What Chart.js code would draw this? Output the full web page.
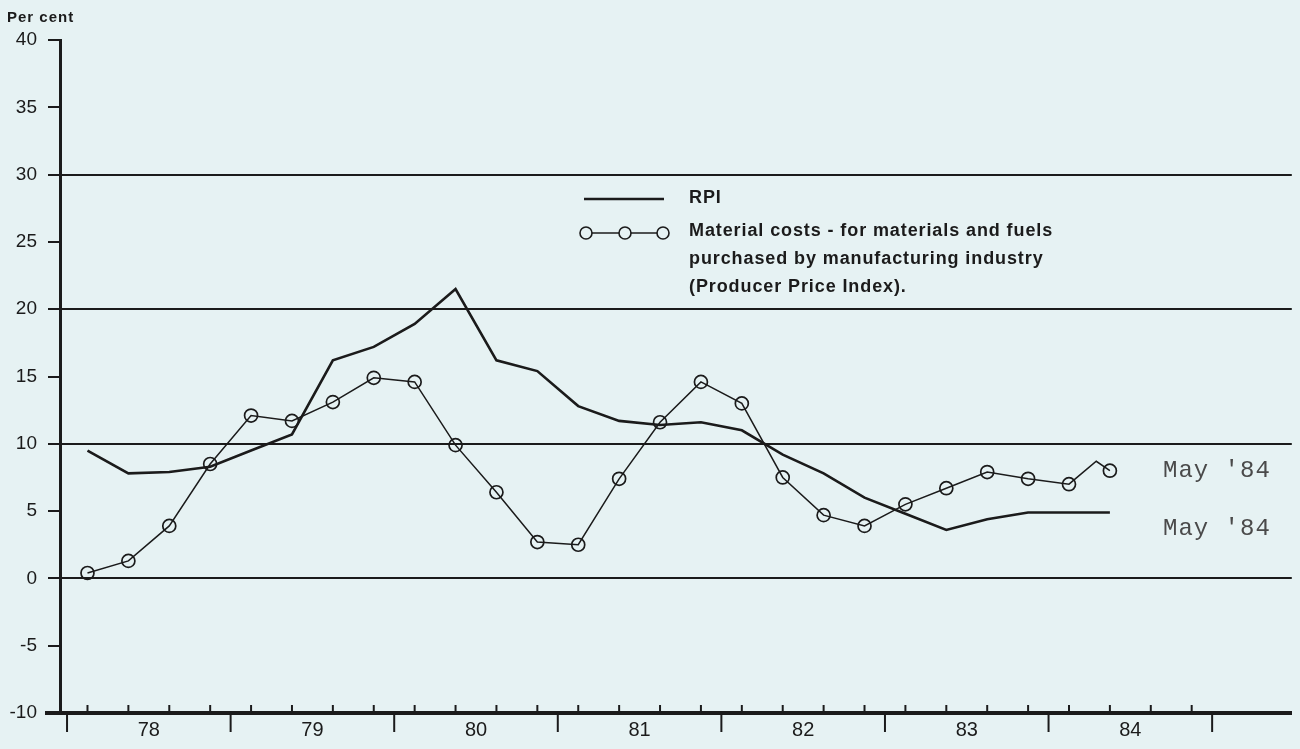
<!DOCTYPE html>
<html>
<head>
<meta charset="utf-8">
<title>RPI and material costs</title>
<script src="https://cdn.jsdelivr.net/npm/chart.js@4.4.0/dist/chart.umd.min.js"></script>
<style>
  html, body { margin: 0; padding: 0; background: #e6f2f3; }
  canvas { display: block; }
</style>
</head>
<body>
<canvas id="chart" width="1300" height="749"></canvas>
<script>
// year labels along the bottom axis (1978 .. 1984)
const firstYear = 1978;
const yearLabels = ['78', '79', '80', '81', '82', '83', '84'];
const yTicks = [-10, -5, 0, 5, 10, 15, 20, 25, 30, 35, 40];
const gridValues = [0, 10, 20, 30];

// RPI, per cent change on a year earlier
const rpiDates = ['1978-02', '1978-05', '1978-08', '1978-11', '1979-02', '1979-05', '1979-08', '1979-11',
  '1980-02', '1980-05', '1980-08', '1980-11', '1981-02', '1981-05', '1981-08', '1981-11',
  '1982-02', '1982-05', '1982-08', '1982-11', '1983-02', '1983-05', '1983-08', '1983-11',
  '1984-02', '1984-05'];
const rpiValues = [9.5, 7.8, 7.9, 8.3, 9.5, 10.7, 16.2, 17.2,
  18.9, 21.5, 16.2, 15.4, 12.8, 11.7, 11.4, 11.6,
  11.0, 9.2, 7.8, 6.0, 4.8, 3.6, 4.4, 4.9,
  4.9, 4.9];

// material costs (producer price index), per cent change on a year earlier
const matDates = ['1978-02', '1978-05', '1978-08', '1978-11', '1979-02', '1979-05', '1979-08', '1979-11',
  '1980-02', '1980-05', '1980-08', '1980-11', '1981-02', '1981-05', '1981-08', '1981-11',
  '1982-02', '1982-05', '1982-08', '1982-11', '1983-02', '1983-05', '1983-08', '1983-11',
  '1984-02', '1984-04', '1984-05'];
const matValues = [0.4, 1.3, 3.9, 8.5, 12.1, 11.7, 13.1, 14.9,
  14.6, 9.9, 6.4, 2.7, 2.5, 7.4, 11.6, 14.6,
  13.0, 7.5, 4.7, 3.9, 5.5, 6.7, 7.9, 7.4,
  7.0, 8.7, 8.0];

// months that carry a circle (mid-quarter)
const markedMonths = [2, 5, 8, 11];

const FONT = "'Liberation Sans', Arial, sans-serif";
const INK = '#1b1b1b';

function toYear(d) {
  const [yy, mm] = d.split('-').map(Number);
  return yy + (mm - 0.5) / 12;
}
function monthOf(d) {
  return Number(d.split('-')[1]);
}

const decor = {
  id: 'decor',
  beforeDraw(chart) {
    const ctx = chart.ctx;
    ctx.save();
    ctx.fillStyle = '#e6f2f3';
    ctx.fillRect(0, 0, chart.width, chart.height);
    ctx.restore();
  },
  afterDraw(chart) {
    const { ctx, chartArea } = chart;
    const x = chart.scales.x;
    const yb = chartArea.bottom;
    ctx.save();
    ctx.strokeStyle = INK;

    // year boundaries below the axis, quarter marks above it
    ctx.lineWidth = 2;
    for (let i = 0; i <= yearLabels.length; i++) {
      const px = x.getPixelForValue(firstYear + i);
      ctx.beginPath();
      ctx.moveTo(px, yb);
      ctx.lineTo(px, yb + 19);
      ctx.stroke();
    }
    for (let i = 0; i < yearLabels.length; i++) {
      for (let q = 0; q < 4; q++) {
        const px = x.getPixelForValue(firstYear + i + (q + 0.5) / 4);
        ctx.beginPath();
        ctx.moveTo(px, yb - 8);
        ctx.lineTo(px, yb);
        ctx.stroke();
      }
    }
    // axis overshoot on the left
    ctx.lineWidth = 4;
    ctx.beginPath();
    ctx.moveTo(45, yb);
    ctx.lineTo(chartArea.left, yb);
    ctx.stroke();

    // unit label
    ctx.fillStyle = INK;
    ctx.font = 'bold 15px ' + FONT;
    ctx.letterSpacing = '1px';
    ctx.textBaseline = 'middle';
    ctx.fillText('Per cent', 7, 18);

    // legend
    ctx.lineWidth = 2.6;
    ctx.beginPath();
    ctx.moveTo(584, 199);
    ctx.lineTo(664, 199);
    ctx.stroke();

    ctx.lineWidth = 1.5;
    ctx.beginPath();
    ctx.moveTo(586, 233);
    ctx.lineTo(663, 233);
    ctx.stroke();
    ctx.lineWidth = 1.6;
    [586, 625, 663].forEach(cx => {
      ctx.beginPath();
      ctx.fillStyle = '#e6f2f3';
      ctx.arc(cx, 233, 6, 0, Math.PI * 2);
      ctx.fill();
      ctx.stroke();
    });

    ctx.fillStyle = INK;
    ctx.font = 'bold 18px ' + FONT;
    ctx.letterSpacing = '0.9px';
    ctx.textBaseline = 'alphabetic';
    ctx.fillText('RPI', 689, 203);
    ctx.fillText('Material costs - for materials and fuels', 689, 236);
    ctx.fillText('purchased by manufacturing industry', 689, 264);
    ctx.fillText('(Producer Price Index).', 689, 292);

    // end labels
    ctx.fillStyle = '#4a4a4a';
    ctx.font = "24px 'Liberation Mono', 'DejaVu Sans Mono', monospace";
    ctx.letterSpacing = '1px';
    ctx.textBaseline = 'middle';
    ctx.fillText("May '84", 1163, 471);
    ctx.fillText("May '84", 1163, 529);
    ctx.restore();
  }
};

const chart = new Chart(document.getElementById('chart'), {
  type: 'line',
  data: {
    datasets: [
      {
        label: 'RPI',
        data: rpiDates.map((d, i) => ({ x: toYear(d), y: rpiValues[i] })),
        borderColor: INK,
        borderWidth: 2.6,
        pointRadius: 0,
        tension: 0,
        fill: false
      },
      {
        label: 'Material costs',
        data: matDates.map((d, i) => ({ x: toYear(d), y: matValues[i] })),
        borderColor: INK,
        borderWidth: 1.5,
        pointRadius: ctx => markedMonths.includes(monthOf(matDates[ctx.dataIndex])) ? 6.5 : 0,
        pointBorderWidth: 1.7,
        pointBorderColor: INK,
        pointBackgroundColor: 'rgba(0,0,0,0)',
        tension: 0,
        fill: false
      }
    ]
  },
  options: {
    responsive: false,
    devicePixelRatio: 1,
    animation: false,
    layout: { padding: { top: 40, right: 4, left: 0, bottom: 0 } },
    plugins: {
      legend: { display: false },
      tooltip: { enabled: false }
    },
    scales: {
      x: {
        type: 'linear',
        min: 1977.957,
        max: 1985.487,
        afterBuildTicks: scale => {
          scale.ticks = yearLabels.map((l, i) => ({ value: firstYear + i + 0.5 }));
        },
        afterFit: scale => { scale.height = 36; },
        ticks: {
          autoSkip: false,
          maxRotation: 0,
          padding: 5,
          color: INK,
          font: { family: FONT, size: 20 },
          callback: (v, i) => yearLabels[i]
        },
        grid: { display: false, drawTicks: false },
        border: { display: true, color: INK, width: 4 }
      },
      y: {
        min: -10,
        max: 40,
        afterBuildTicks: scale => {
          scale.ticks = yTicks.map(v => ({ value: v }));
        },
        afterFit: scale => { scale.width = 60; },
        ticks: {
          padding: 11,
          color: INK,
          font: { family: FONT, size: 19 },
          callback: v => String(v)
        },
        grid: {
          color: ctx => gridValues.includes(ctx.tick.value) ? INK : 'rgba(0,0,0,0)',
          lineWidth: 2,
          tickLength: 12,
          tickColor: INK,
          tickWidth: 2
        },
        border: { display: true, color: INK, width: 3 }
      }
    }
  },
  plugins: [decor]
});
</script>
</body>
</html>
